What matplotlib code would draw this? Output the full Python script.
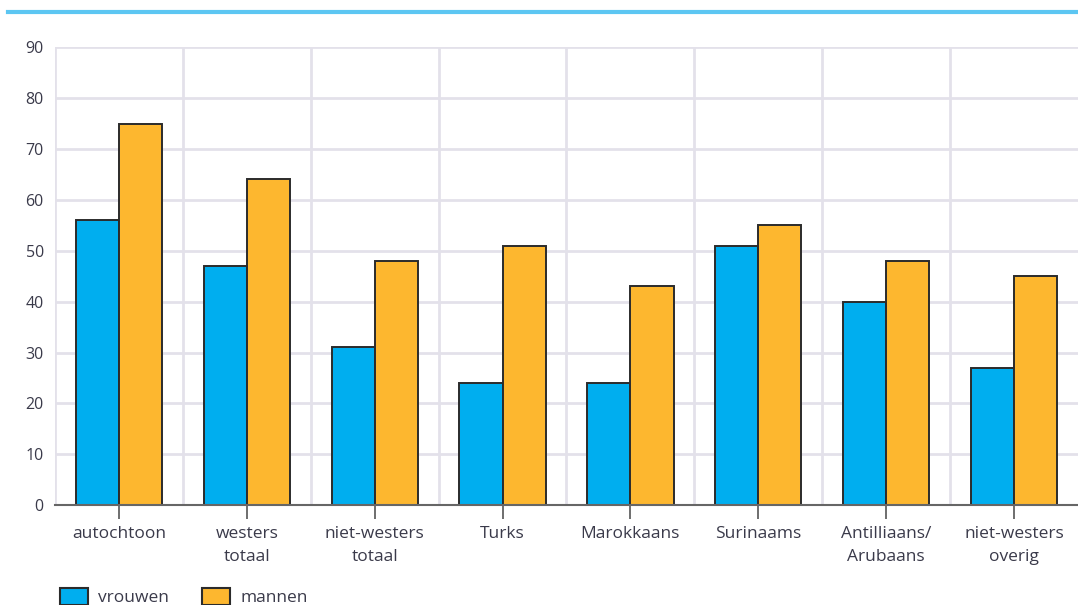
import numpy as np
import matplotlib.pyplot as plt
from matplotlib.patches import Patch
from matplotlib.lines import Line2D

categorieen = ['autochtoon', 'westers\ntotaal', 'niet-westers\ntotaal', 'Turks',
               'Marokkaans', 'Surinaams', 'Antilliaans/\nArubaans', 'niet-westers\noverig']
vrouwen = [56, 47, 31, 24, 24, 51, 40, 27]
mannen = [75, 64, 48, 51, 43, 55, 48, 45]
yticks = list(range(0, 100, 10))

plt.rcParams['font.family'] = ['Open Sans', 'DejaVu Sans']
tekst_kleur = '#3a3a4a'
blauw = '#00aeef'
oranje = '#fdb72f'

fig = plt.figure(figsize=(10.78, 6.05), dpi=100)
ax = fig.add_axes([0.051, 0.165, 0.949, 0.757])

x = np.arange(len(categorieen))
w = 0.337
ax.bar(x - w / 2, vrouwen, w, color=blauw, edgecolor='#2b2b2b', linewidth=1.4, zorder=3)
ax.bar(x + w / 2, mannen, w, color=oranje, edgecolor='#2b2b2b', linewidth=1.4, zorder=3)

ax.set_xlim(-0.5, len(categorieen) - 0.5)
ax.set_ylim(0, 90)
ax.set_yticks(yticks)
ax.set_xticks(x)
ax.set_xticklabels(categorieen, fontsize=12.5, color=tekst_kleur, linespacing=1.6)
ax.tick_params(axis='x', length=10, width=1.2, color='#555555', pad=5)
ax.tick_params(axis='y', length=0, labelsize=11.5, labelcolor=tekst_kleur, pad=8)

# raster: horizontaal per 10, verticaal tussen de categorieen
ax.grid(axis='y', color='#e3e1ea', linewidth=2, zorder=0)
for grens in np.arange(-0.5, len(categorieen) - 0.5, 1.0):
    ax.axvline(grens, color='#e3e1ea', linewidth=2, zorder=0)

for kant in ['top', 'right', 'left']:
    ax.spines[kant].set_visible(False)
ax.spines['bottom'].set_color('#666666')
ax.spines['bottom'].set_linewidth(1.5)
ax.spines['bottom'].set_zorder(4)

# lichtblauwe lijn bovenaan
fig.add_artist(Line2D([0.007, 1.0], [0.98, 0.98], color='#5cc6f2', linewidth=3,
                      transform=fig.transFigure))

handles = [Patch(facecolor=blauw, edgecolor='#2b2b2b', linewidth=1.5),
           Patch(facecolor=oranje, edgecolor='#2b2b2b', linewidth=1.5)]
fig.legend(handles, ['vrouwen', 'mannen'], loc='lower left', bbox_to_anchor=(0.041, -0.028),
           ncol=2, frameon=False, fontsize=12.5, labelcolor=tekst_kleur,
           handlelength=1.6, handleheight=1.2, columnspacing=1.9, handletextpad=0.6)

fig.savefig('out.png', dpi=100)
